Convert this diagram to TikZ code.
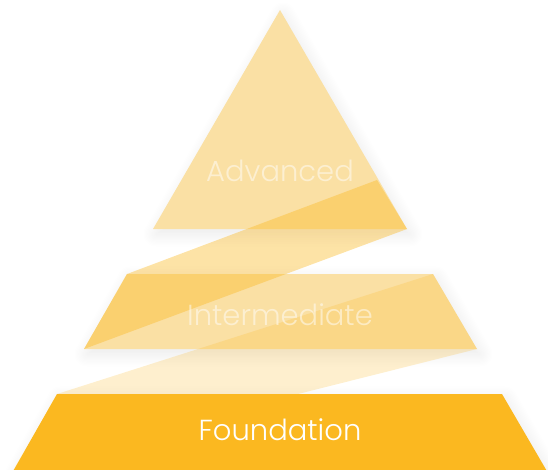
\documentclass[tikz,border=0pt]{standalone}
\usepackage{fontspec}
\newfontfamily\tierfont{Poppins}[UprightFont={* Light}]
\usepackage{xcolor}
\usetikzlibrary{calc}
\usetikzlibrary{positioning}
\usetikzlibrary{shadows.blur}
\definecolor{gold}{HTML}{FBB820}
\definecolor{paleGold}{HTML}{FAE0A4}

\begin{document}
\begin{tikzpicture}[x=1pt, y=-1pt, font=\tierfont\fontsize{29}{32}\selectfont]
    \tikzstyle{tier}=[fill=paleGold, draw=none]
    \tikzstyle{base}=[fill=gold, draw=none]
    \tikzstyle{ribbon}=[fill=gold, draw=none]
    \tikzstyle{shade}=[blur shadow={shadow xshift=3pt, shadow yshift=-5pt, shadow blur radius=14pt, shadow blur steps=12, shadow opacity=9}]
    \tikzstyle{tierlabel}=[text=white, inner sep=0pt, anchor=base]

    \useasboundingbox (0,0) rectangle (548,469);

	% top triangle
	\coordinate (apex) at (280,10);
	\coordinate (topL) at (153,229);
	\coordinate (topR) at (407,229);
	\coordinate (topCut) at (377,180);

	% middle trapezoid
	\coordinate (midTL) at (127,274);
	\coordinate (midTR) at (433,274);
	\coordinate (midBR) at (477,349);
	\coordinate (midBL) at (84,349);

	% bottom trapezoid
	\coordinate (botTL) at (57,394);
	\coordinate (botTR) at (502,394);
	\coordinate (botBR) at (548,473);
	\coordinate (botBL) at (12,473);
	\coordinate (botCut) at (298,394);

	\path[base, shade] (botTL) -- (botTR) -- (botBR) -- (botBL) -- cycle;
	\path[tier, shade] (midTL) -- (midTR) -- (midBR) -- (midBL) -- cycle;
	\path[tier, shade] (apex) -- (topR) -- (topL) -- cycle;

	\path[ribbon, fill opacity=0.4] (topCut) -- (topR) -- (midBL) -- (midTL) -- cycle;
	\path[ribbon, fill opacity=0.22] (midTR) -- (midBR) -- (botCut) -- (botTL) -- cycle;

	\node[tierlabel, text opacity=0.5] (advanced) at (280,181) {Advanced};
	\node[tierlabel, text opacity=0.5] (intermediate) at (280,325) {Intermediate};
	\node[tierlabel] (foundation) at (280,440) {Foundation};
\end{tikzpicture}
\end{document}
